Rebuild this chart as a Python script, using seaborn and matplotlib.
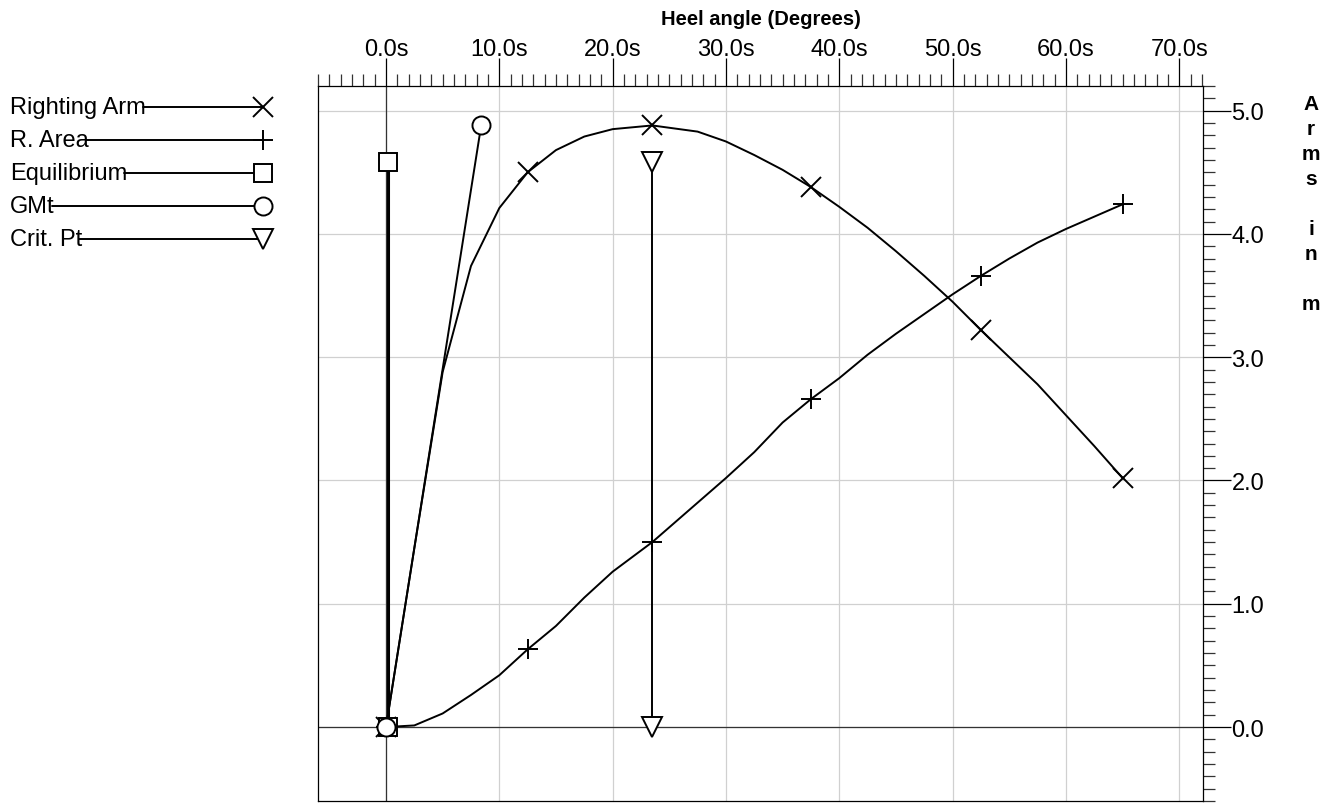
import numpy as np
import pandas as pd
import matplotlib.pyplot as plt
import matplotlib.ticker as mticker
from matplotlib.lines import Line2D
import seaborn as sns

# heel angles (deg) shared by the two curves
heel = [0, 2.5, 5, 7.5, 10, 12.5, 15, 17.5, 20, 23.5, 27.5, 30, 32.5, 35,
        37.5, 40, 42.5, 45, 47.5, 50, 52.5, 55, 57.5, 60, 62.5, 65]
righting_arm = [0, 1.45, 2.88, 3.74, 4.21, 4.50, 4.68, 4.79, 4.85, 4.88, 4.83, 4.75, 4.64, 4.52,
                4.38, 4.22, 4.05, 3.86, 3.66, 3.45, 3.22, 3.00, 2.78, 2.53, 2.28, 2.02]
r_area = [0, 0.013, 0.11, 0.26, 0.42, 0.63, 0.82, 1.05, 1.26, 1.50, 1.82, 2.02, 2.23, 2.47,
          2.66, 2.83, 3.02, 3.19, 3.35, 3.51, 3.66, 3.80, 3.93, 4.04, 4.14, 4.24]
mark_idx = [0, 5, 9, 14, 20, 25]

equil_x = [0.2, 0.2]
equil_y = [0, 4.58]
gmt_x = [0, 8.4]
gmt_y = [0, 4.88]
crit_x = [23.5, 23.5]
crit_y = [0, 4.58]

legend_labels = ["Righting Arm", "R. Area", "Equilibrium", "GMt", "Crit. Pt"]
legend_markers = ["x", "+", "s", "o", "v"]

x_major = [0, 10, 20, 30, 40, 50, 60, 70]
y_major = [0, 1, 2, 3, 4, 5]

sns.set_style("white")
plt.rcParams['font.family'] = ['Liberation Sans', 'DejaVu Sans']
plt.rcParams['text.color'] = 'black'
plt.rcParams['axes.labelcolor'] = 'black'

W, H = 1337, 804
fig = plt.figure(figsize=(W / 100, H / 100), dpi=100)
ax = fig.add_axes([318 / W, 2 / H, 885 / W, 715 / H])

curves = pd.DataFrame({"heel": heel, "arm": righting_arm, "area": r_area})
mk = dict(color="black", lw=1.4, markersize=14, mew=1.4, mfc="white", mec="black")

sns.lineplot(data=curves, x="heel", y="arm", ax=ax, estimator=None, sort=False,
             marker="x", markevery=mark_idx, **mk)
sns.lineplot(data=curves, x="heel", y="area", ax=ax, estimator=None, sort=False,
             marker="+", markevery=mark_idx, **mk)
sns.lineplot(x=equil_x, y=equil_y, ax=ax, estimator=None, sort=False,
             marker="s", **{**mk, "lw": 2.2, "markersize": 13})
sns.lineplot(x=gmt_x, y=gmt_y, ax=ax, estimator=None, sort=False,
             marker="o", **{**mk, "markersize": 13})
sns.lineplot(x=crit_x, y=crit_y, ax=ax, estimator=None, sort=False,
             marker="v", **{**mk, "markersize": 14})

ax.axhline(0, color="#333333", lw=0.9, zorder=1)
ax.axvline(0, color="#333333", lw=0.9, zorder=1)

ax.set_xlim(-6.0, 72.1)
ax.set_ylim(-0.6, 5.2)

ax.xaxis.tick_top()
ax.xaxis.set_label_position("top")
ax.yaxis.tick_right()
ax.set_xticks(x_major)
ax.set_xticklabels([f"{v:.1f}s" for v in x_major])
ax.set_yticks(y_major)
ax.set_yticklabels([f"{v:.1f}" for v in y_major])
ax.xaxis.set_minor_locator(mticker.MultipleLocator(1))
ax.yaxis.set_minor_locator(mticker.MultipleLocator(0.1))
ax.tick_params(which="major", direction="out", length=20, width=0.9, color="black",
               labelsize=17, labelcolor="black")
ax.tick_params(axis="x", which="major", pad=-1.5)
ax.tick_params(axis="y", which="major", pad=0.5)
ax.tick_params(which="minor", direction="out", length=8.6, width=0.9, color="#333333")
ax.set_xlabel("Heel angle (Degrees)", fontsize=14.5, fontweight="bold", labelpad=10)
ax.set_ylabel("")

ax.grid(True, which="major", color="#d0d0d0", lw=0.9)
ax.set_axisbelow(True)
for s in ax.spines.values():
    s.set_color("black")
    s.set_linewidth(0.9)

# stacked y-axis title
fig.text(1311 / W, 1 - 95 / H, "A\nr\nm\ns\n\ni\nn\n\nm", ha="center", va="top",
         fontsize=15, fontweight="bold", linespacing=1.40)

# custom legend: label, then line running to the marker
fig.canvas.draw()
renderer = fig.canvas.get_renderer()
rows = [108, 141, 174, 207, 240]
for lab, m, yy in zip(legend_labels, legend_markers, rows):
    t = fig.text(10 / W, 1 - yy / H, lab, ha="left", va="center", fontsize=17)
    x0 = t.get_window_extent(renderer).x1 - 3
    ln = Line2D([x0 / W, 263 / W], [1 - yy / H, 1 - yy / H], transform=fig.transFigure,
                color="black", lw=1.4, marker=m, markevery=[1], markersize=14 if m in "xv+" else 13,
                mew=1.4, mfc="white", mec="black")
    fig.add_artist(ln)

fig.savefig("out.png", dpi=100)
